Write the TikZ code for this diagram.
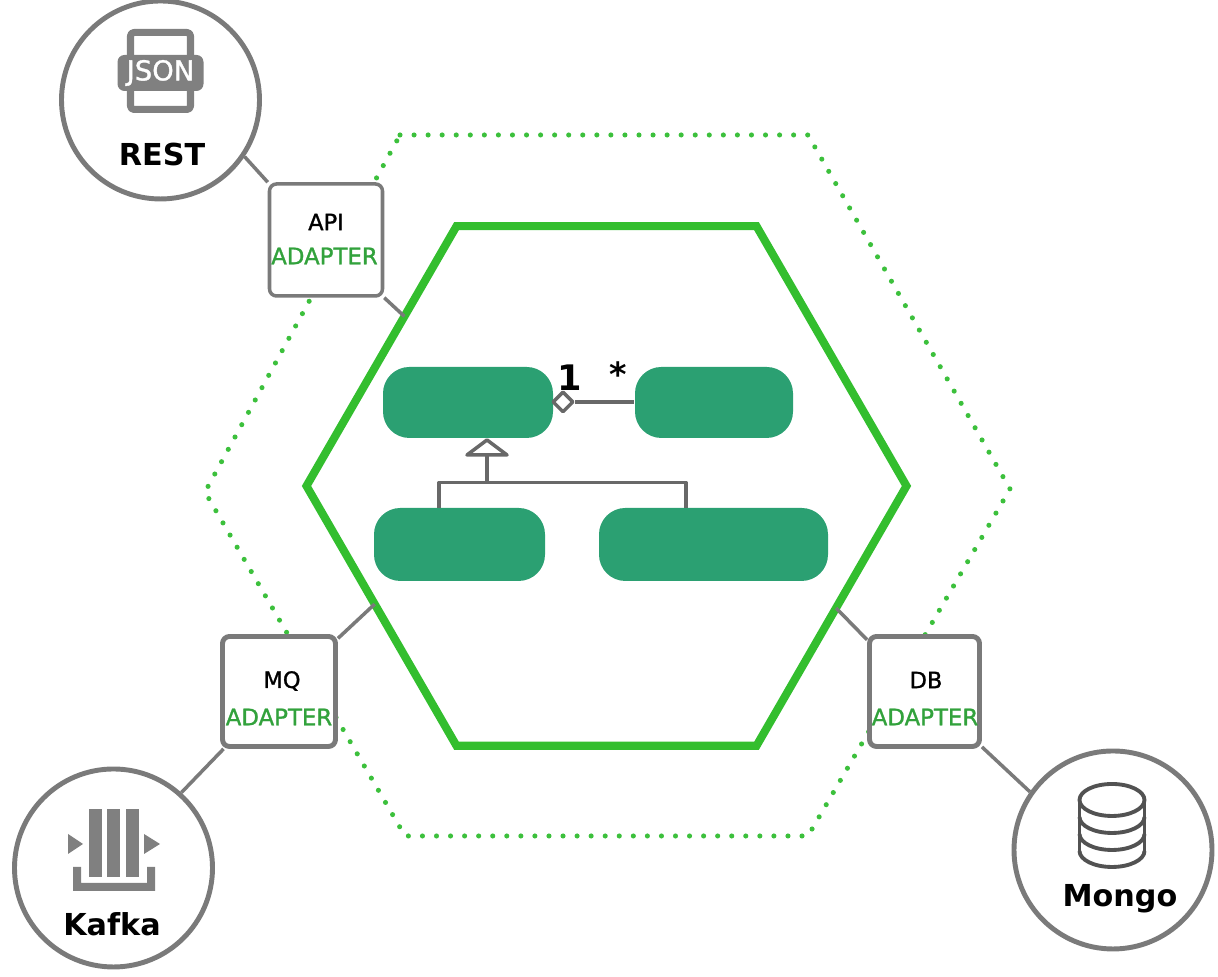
\documentclass[tikz,border=0pt]{standalone}
\usepackage{fontspec}
\setmainfont{DejaVu Sans}
\newfontfamily\portfont[FakeBold=1.2]{DejaVu Sans}
\usetikzlibrary{shapes.geometric}
\definecolor{hexGreen}{HTML}{33BE2E}
\definecolor{dotGreen}{HTML}{3CC03C}
\definecolor{adapterGreen}{HTML}{32A23C}
\definecolor{classGreen}{HTML}{2BA072}
\definecolor{wireGray}{HTML}{7A7A7A}
\definecolor{iconGray}{HTML}{808080}

\begin{document}
\begin{tikzpicture}[
  x=1cm, y=1cm,
  line join=round,
  wire/.style={draw=wireGray, line width=1pt},
  uml line/.style={draw=wireGray!85!black, line width=1pt},
  system/.style={circle, draw=wireGray, fill=white, line width=1.4pt, minimum size=1.98cm, inner sep=0pt},
  system name/.style={font=\bfseries\fontsize{8.6}{10}\selectfont, text=black, inner sep=0pt},
  adapter/.style={rectangle, rounded corners=2pt, draw=wireGray, fill=white, line width=1.4pt, inner sep=0pt},
  port name/.style={font=\portfont\fontsize{6.4}{8}\selectfont, text=black, inner sep=0pt},
  port kind/.style={font=\portfont\fontsize{6.5}{8}\selectfont, text=adapterGreen, inner sep=0pt},
  entity/.style={rectangle, rounded corners=7.5pt, fill=classGreen, inner sep=0pt}
]
\useasboundingbox (0,0) rectangle (12.18,9.77);

% Outer dotted hexagon goes first, the adapters cover parts of it.
\draw[dotGreen, line width=1.45pt, line cap=round, dash pattern=on 0pt off 4pt]
  (4.00,8.42) -- (8.08,8.42) -- (10.10,4.88) -- (8.08,1.41) -- (4.05,1.41) -- (2.05,4.85) -- cycle;

\node[regular polygon, regular polygon sides=6, draw=hexGreen, line width=2.3pt, line join=miter,
  minimum size=6.00cm, inner sep=0pt, outer sep=0pt] (core) at (6.065,4.91) {};

% Outside systems
\node[system] (rest) at (1.605,8.77) {};
\node[system] (kafka) at (1.135,1.09) {};
\node[system] (mongo) at (11.13,1.27) {};
\node[system name] (restName) at (1.62,8.22) {REST};
\node[system name] (kafkaName) at (1.12,0.53) {Kafka};
\node[system name] (mongoName) at (11.20,0.78) {Mongo};

% Adapters
\node[adapter, line width=1pt, minimum width=1.13cm, minimum height=1.12cm] (api) at (3.26,7.37) {};
\node[adapter, minimum width=1.13cm, minimum height=1.10cm] (mq) at (2.79,2.855) {};
\node[adapter, minimum width=1.10cm, minimum height=1.10cm] (db) at (9.245,2.855) {};
\node[port name] (apiName) at (3.26,7.55) {API};
\node[port kind] (apiKind) at (3.245,7.21) {ADAPTER};
\node[port name] (mqName) at (2.82,2.96) {MQ};
\node[port kind] (mqKind) at (2.79,2.60) {ADAPTER};
\node[port name] (dbName) at (9.26,2.97) {DB};
\node[port kind] (dbKind) at (9.25,2.60) {ADAPTER};

\draw[wire] (rest.-34) -- (api.north west);
\draw[wire] (api.south east) -- (core.140);
\draw[wire] (mq.42) -- (core.207);
\draw[wire] (mq.226) -- (kafka.48);
\draw[wire] (db.138) -- (core.-28);
\draw[wire] (db.-44) -- (mongo.145.5);

% Classes inside the core
\node[entity, minimum width=1.70cm, minimum height=.71cm] (base) at (4.68,5.745) {};
\node[entity, minimum width=1.58cm, minimum height=.71cm] (part) at (7.14,5.745) {};
\node[entity, minimum width=1.71cm, minimum height=.73cm] (subLeft) at (4.595,4.325) {};
\node[entity, minimum width=2.29cm, minimum height=.73cm] (subRight) at (7.135,4.325) {};

\node[diamond, uml line, fill=white, minimum width=.21cm, minimum height=.21cm, inner sep=0pt] (whole) at (5.63,5.75) {};
\draw[uml line] (whole) -- (part.west |- whole);
\node[font=\bfseries\fontsize{10}{11}\selectfont, inner sep=0pt] (one) at (5.70,5.99) {1};
\node[font=\bfseries\fontsize{9.5}{11}\selectfont, inner sep=0pt] (many) at (6.18,6.03) {*};

\coordinate (tip) at (4.87,5.37);
\coordinate (fork) at (4.87,4.945);
\coordinate (footLeft) at (4.39,4.69);
\coordinate (footRight) at (6.86,4.69);
\draw[uml line] (tip) -- (5.07,5.22) -- (4.67,5.22) -- cycle;
\draw[uml line] (4.87,5.22) -- (fork);
\draw[uml line] (footLeft) |- (fork) -| (footRight);

% JSON icon
\begin{scope}[shift={(1.605,9.04)}]
  \draw[iconGray, line width=2pt, rounded corners=1pt] (-.30,-.365) rectangle (.30,.405);
  \fill[iconGray, rounded corners=2pt] (-.43,-.18) rectangle (.43,.18);
  \node[text=white, font=\portfont\fontsize{7.8}{9}\selectfont, inner sep=0pt] (json) at (0,0) {JSON};
\end{scope}

% Kafka icon
\begin{scope}[shift={(1.135,0.89)}]
  \foreach \barX in {-.18,0.,.19}
    \fill[iconGray] (\barX-.065,.11) rectangle (\barX+.065,.79);
  \fill[iconGray] (-.455,.54) -- (-.305,.44) -- (-.455,.34) -- cycle;
  \fill[iconGray] (.305,.54) -- (.465,.44) -- (.305,.34) -- cycle;
  \fill[iconGray] (-.405,.21) -- (-.325,.21) -- (-.325,.05) -- (.335,.05) -- (.335,.21) -- (.415,.21)
    -- (.415,-.03) -- (-.405,-.03) -- cycle;
\end{scope}

% Mongo icon
\begin{scope}[shift={(11.12,1.77)}]
  \draw[black!68, line width=1.1pt] (0,0) ellipse[x radius=.325, y radius=.16];
  \draw[black!68, line width=1.1pt] (-.325,0) -- (-.325,-.51) (.325,0) -- (.325,-.51);
  \foreach \ringY in {-.17,-.34,-.51}
    \draw[black!68, line width=1.1pt] (-.325,\ringY) arc[start angle=180, end angle=360, x radius=.325, y radius=.16];
\end{scope}
\end{tikzpicture}
\end{document}
